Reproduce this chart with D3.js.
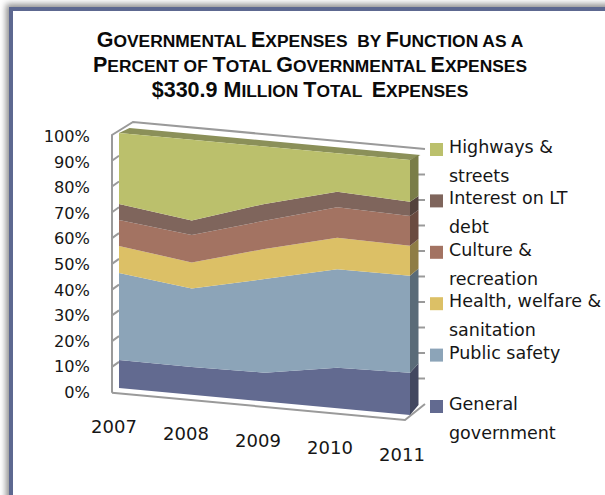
<!DOCTYPE html>
<html>
<head>
<meta charset="utf-8">
<script src="https://cdnjs.cloudflare.com/ajax/libs/d3/7.8.5/d3.min.js"></script>
<style>
  html, body { margin: 0; padding: 0; background: #fff; }
  svg { display: block; }
  text { font-family: "DejaVu Sans", sans-serif; fill: #161616; }
  text.title-line { font-family: "Liberation Sans", Arial, sans-serif; font-weight: 700; fill: #0a0a0a; }
</style>
</head>
<body>
<svg id="chart" width="605" height="495"></svg>
<script>
// Percent-stacked 3-D style area chart of governmental expenses by function.
const years = ["2007", "2008", "2009", "2010", "2011"];
const generalGovernment = [11.0, 10.9, 11.3, 15.9, 16.6];
const publicSafety      = [34.1, 30.8, 36.7, 38.6, 38.0];
const healthWelfare     = [10.6, 10.2, 11.8, 12.4, 11.8];
const cultureRecreation = [10.2, 10.7, 11.1, 11.9, 11.6];
const interestDebt      = [6.3, 5.7, 6.6, 6.1, 5.6];
const highwaysStreets   = [27.8, 31.7, 22.5, 15.1, 16.4];

const seriesNames = ["General government", "Public safety", "Health, welfare & sanitation",
                     "Culture & recreation", "Interest on LT debt", "Highways & streets"];
const seriesValues = [generalGovernment, publicSafety, healthWelfare,
                      cultureRecreation, interestDebt, highwaysStreets];
const faceColors = ["#626a90", "#8ca4b8", "#dcc066", "#a37362", "#7f655c", "#bbc06c"];
const sideColors = ["#42475f", "#5a6b78", "#8f7d45", "#6a4b40", "#53423c", "#7a7d48"];
const percentTicks = d3.range(0, 101, 10);
const titleLines = ["Governmental Expenses  by Function as a",
                    "Percent of Total Governmental Expenses",
                    "$330.9 Million Total  Expenses"];
const legendLines = [["Highways &", "streets"], ["Interest on LT", "debt"], ["Culture &", "recreation"],
                     ["Health, welfare &", "sanitation"], ["Public safety"], ["General", "government"]];

const svg = d3.select("#chart");

// Card with soft shadow
const defs = svg.append("defs");
defs.append("filter").attr("id", "cardShadow")
  .attr("x", "-10%").attr("y", "-10%").attr("width", "120%").attr("height", "120%")
  .append("feGaussianBlur").attr("stdDeviation", 3.2);
svg.append("rect").attr("x", 6).attr("y", 4).attr("width", 700).attr("height", 600)
  .attr("fill", "#8f8f8f").attr("filter", "url(#cardShadow)");
svg.append("rect").attr("x", 11).attr("y", 9).attr("width", 700).attr("height", 600)
  .attr("fill", "#fff").attr("stroke", "#5d6890").attr("stroke-width", 4);

// Title: capitals at full size, the rest as small capitals
const titleY = d3.scaleLinear().domain([0, 1]).range([46.5, 71.5]);
titleLines.forEach((line, i) => {
  const t = svg.append("text").attr("class", "title-line")
    .attr("x", 310).attr("y", titleY(i)).attr("text-anchor", "middle")
    .attr("xml:space", "preserve").style("white-space", "pre");
  line.match(/[a-z ]+|[^a-z ]+/g).forEach(run => {
    const small = /[a-z]/.test(run);
    t.append("tspan").attr("font-size", small ? 17.4 : 21.5).text(run.toUpperCase());
  });
});

// Front plane of the chart: the floor slopes downward from left to right
const x = d3.scalePoint().domain(years).range([119, 410]);
const floorY = d3.scaleLinear().domain([119, 410]).range([388, 415]);
const rise = d3.scaleLinear().domain([0, 100]).range([0, 255]);
const depthDy = d3.scaleLinear().domain([0, 100]).range([-10, -5]);
const depthDx = 8.5;
const frontY = (year, v) => floorY(x(year)) - rise(v);

// Walls and floor outline
const wallColor = "#9a9a9a";
const wallY = d3.scaleLinear().domain([0, 100]).range([392.7, 135]);
const rearY = d3.scaleLinear().domain([0, 100]).range([404, 149]);
const outline = [
  [[112, wallY(0)], [112, wallY(100)], [133, 122], [425, rearY(100)]],
  [[112, wallY(0)], [405, 420], [425, rearY(0)]]
];
outline.forEach(pts => {
  svg.append("path").attr("d", d3.line()(pts)).attr("fill", "none")
    .attr("stroke", wallColor).attr("stroke-width", 2);
});
svg.append("g").selectAll("line").data(percentTicks.slice(1, -1)).join("line")
  .attr("x1", 112).attr("x2", 119)
  .attr("y1", d => wallY(d)).attr("y2", d => wallY(d) - 5)
  .attr("stroke", wallColor).attr("stroke-width", 2);
svg.append("g").selectAll("line").data(percentTicks.slice(1, -1)).join("line")
  .attr("x1", 418).attr("x2", 425)
  .attr("y1", d => rearY(d)).attr("y2", d => rearY(d))
  .attr("stroke", wallColor).attr("stroke-width", 2);

// Stacked layers
const table = years.map((year, i) => {
  const row = { year };
  seriesNames.forEach((name, s) => { row[name] = seriesValues[s][i]; });
  return row;
});
const stacked = d3.stack().keys(seriesNames)(table);
const lastYear = years[years.length - 1];

// Top surface of the stack
const topLayer = stacked[stacked.length - 1];
const topFront = topLayer.map(p => [x(p.data.year), frontY(p.data.year, p[1])]);
const topBack = topFront.slice().reverse().map(([px, py]) => [px + depthDx + 2, py + depthDy(100)]);
svg.append("path").attr("d", d3.line()(topFront.concat(topBack)) + "Z").attr("fill", "#8b9059");

// Right-hand end faces
stacked.forEach((layer, s) => {
  const end = layer[layer.length - 1];
  const fx = x(lastYear);
  const pts = [
    [fx, frontY(lastYear, end[0])],
    [fx + depthDx, frontY(lastYear, end[0]) + depthDy(end[0])],
    [fx + depthDx, frontY(lastYear, end[1]) + depthDy(end[1])],
    [fx, frontY(lastYear, end[1])]
  ];
  svg.append("path").attr("d", d3.line()(pts) + "Z").attr("fill", sideColors[s]);
});

// Front faces
const area = d3.area()
  .x(p => x(p.data.year))
  .y0(p => frontY(p.data.year, p[0]))
  .y1(p => frontY(p.data.year, p[1]));
svg.append("g").selectAll("path").data(stacked).join("path")
  .attr("d", area).attr("fill", (d, i) => faceColors[i]);

// Percent labels
const labelY = d3.scaleLinear().domain([0, 100]).range([398, 142]);
svg.append("g").selectAll("text").data(percentTicks).join("text")
  .attr("x", 90).attr("y", d => labelY(d)).attr("text-anchor", "end")
  .attr("font-size", 16.2).text(d => d + "%");

// Year labels follow the slope of the floor
const yearLabelX = d3.scalePoint().domain(years).range([114, 402]);
const yearLabelY = d3.scalePoint().domain(years).range([433, 461]);
svg.append("g").selectAll("text").data(years).join("text")
  .attr("x", d => yearLabelX(d)).attr("y", d => yearLabelY(d)).attr("text-anchor", "middle")
  .attr("font-size", 18).text(d => d);

// Legend, top entry first
const legendY = d3.scalePoint().domain(d3.range(6)).range([153, 410]);
const legendColors = faceColors.slice().reverse();
legendLines.forEach((lines, i) => {
  const y0 = legendY(i);
  svg.append("rect").attr("x", 430).attr("y", y0 - 10).attr("width", 13).attr("height", 13)
    .attr("fill", legendColors[i]);
  lines.forEach((line, j) => {
    svg.append("text").attr("x", 449).attr("y", y0 + j * 29)
      .attr("font-size", 17.5).text(line);
  });
});
</script>
</body>
</html>
